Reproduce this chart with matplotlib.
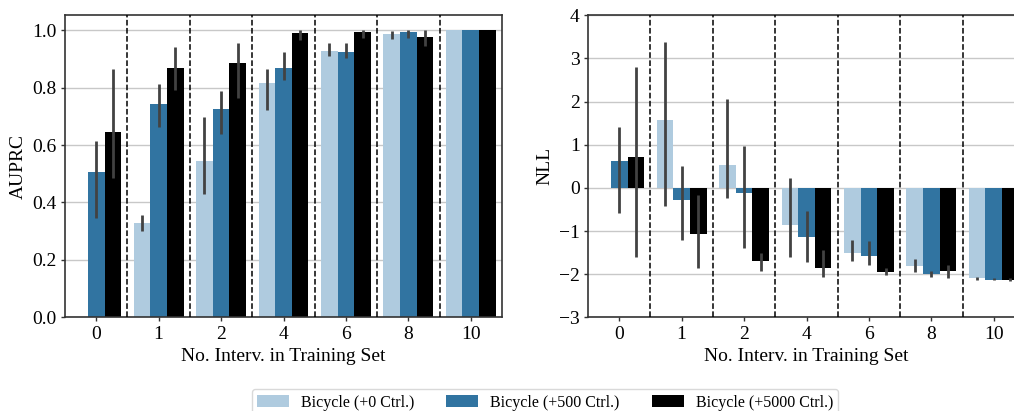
import numpy as np
import matplotlib
matplotlib.use("Agg")
import matplotlib.pyplot as plt
from matplotlib.patches import Patch

plt.rcParams['font.family'] = ['Liberation Serif', 'DejaVu Serif']
plt.rcParams['font.size'] = 14

groups = ["0", "1", "2", "4", "6", "8", "10"]
series = ["Bicycle (+0 Ctrl.)", "Bicycle (+500 Ctrl.)", "Bicycle (+5000 Ctrl.)"]
colors = ["#afcbdf", "#3174a1", "#000000"]

# AUPRC: mean, lower, upper per series
auprc = [
    [np.nan, 0.328, 0.546, 0.816, 0.927, 0.986, 1.0],
    [0.506, 0.742, 0.725, 0.868, 0.923, 0.993, 1.0],
    [0.645, 0.868, 0.885, 0.990, 0.993, 0.976, 1.0],
]
auprc_lo = [
    [np.nan, 0.302, 0.429, 0.722, 0.909, 0.970, 1.0],
    [0.345, 0.662, 0.638, 0.826, 0.904, 0.974, 1.0],
    [0.486, 0.793, 0.763, 0.966, 0.974, 0.944, 1.0],
]
auprc_hi = [
    [np.nan, 0.358, 0.696, 0.865, 0.956, 0.997, 1.0],
    [0.615, 0.814, 0.790, 0.925, 0.956, 1.000, 1.0],
    [0.864, 0.942, 0.954, 1.002, 1.002, 1.002, 1.0],
]

# NLL
nll = [
    [np.nan, 1.584, 0.54, -0.85, -1.51, -1.82, -2.10],
    [0.634, -0.27, -0.13, -1.15, -1.59, -1.99, -2.125],
    [0.726, -1.08, -1.70, -1.85, -1.94, -1.92, -2.125],
]
nll_lo = [
    [np.nan, -0.425, -0.23, -1.60, -1.70, -1.96, -2.14],
    [-0.58, -1.21, -1.40, -1.72, -1.78, -2.06, -2.14],
    [-1.61, -1.855, -1.93, -2.06, -2.02, -2.09, -2.16],
]
nll_hi = [
    [np.nan, 3.38, 2.05, 0.22, -1.21, -1.64, -2.06],
    [1.42, 0.50, 0.96, -0.53, -1.24, -1.93, -2.10],
    [2.81, -0.155, -1.51, -1.43, -1.86, -1.78, -2.09],
]


def draw_panel(ax, vals, lo, hi, ylim, yticks, ylabel):
    x = np.arange(len(groups))
    w = 0.8 / 3
    for i in range(3):
        pos = x + (i - 1) * w
        ax.bar(pos, vals[i], width=w, color=colors[i], zorder=2)
        ax.vlines(pos, lo[i], hi[i], color="#424242", linewidth=2, zorder=3)
    for b in np.arange(len(groups) - 1) + 0.5:
        ax.axvline(b, color="black", linestyle="--", linewidth=1.1, zorder=4)
    ax.set_xlim(-0.5, len(groups) - 0.5)
    ax.set_ylim(*ylim)
    ax.set_yticks(yticks)
    ax.set_xticks(x)
    ax.set_xticklabels(groups)
    ax.yaxis.grid(True, color="#c8c8c8", linewidth=1.0, zorder=0)
    ax.set_axisbelow(True)
    ax.set_xlabel("No. Interv. in Training Set", labelpad=4)
    ax.set_ylabel(ylabel)
    for s in ax.spines.values():
        s.set_color("#333333")
        s.set_linewidth(1.2)
    ax.tick_params(length=3, width=1, color="#333333", pad=3)


fig = plt.figure(figsize=(10.14, 4.11), dpi=100)
W, H = 1014, 411
ax1 = fig.add_axes([65 / W, 1 - 317.3 / H, 437 / W, 302 / H])
ax2 = fig.add_axes([588 / W, 1 - 317.3 / H, 437 / W, 302 / H])

draw_panel(ax1, auprc, auprc_lo, auprc_hi, (0, 1.052),
           [0.0, 0.2, 0.4, 0.6, 0.8, 1.0], "AUPRC")
ax1.set_yticklabels(["0.0", "0.2", "0.4", "0.6", "0.8", "1.0"])
draw_panel(ax2, nll, nll_lo, nll_hi, (-3, 4),
           [-3, -2, -1, 0, 1, 2, 3, 4], "NLL")

handles = [Patch(facecolor=c, label=s) for c, s in zip(colors, series)]
fig.legend(handles=handles, loc="upper center", ncol=3,
           bbox_to_anchor=(545 / W, 1 - 381 / H), frameon=True,
           fancybox=True, edgecolor="#d0d0d0", handlelength=2.0,
           handletextpad=0.75, columnspacing=2.0, borderpad=0.35,
           fontsize=11.5)

fig.savefig("out.png", dpi=100)
